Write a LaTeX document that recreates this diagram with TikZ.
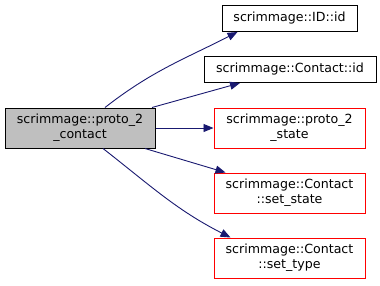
\documentclass[tikz,border=0pt]{standalone}
\usepackage{fontspec}
\setmainfont{DejaVu Sans}
\usetikzlibrary{arrows.meta}
\definecolor{edgeblue}{HTML}{191970}
\definecolor{boxgray}{HTML}{BFBFBF}
\begin{document}
\begin{tikzpicture}[x=1pt,y=-1pt,
  fn/.style={draw=black,line width=1pt,fill=white,inner sep=0pt,align=center,
    font=\fontsize{12.6}{15}\selectfont},
  missing/.style={fn,draw=red},
  callee/.style={fn,fill=boxgray},
  edge/.style={draw=edgeblue,line width=0.9pt,-{Triangle[length=10pt,width=8pt]}}]
\useasboundingbox (0,0) rectangle (380,285);
\node[callee,minimum width=150pt,minimum height=40pt] (main) at (80,128) {scrimmage::proto\_2\\\_contact};
\node[fn,minimum width=135pt,minimum height=26pt] (idid) at (289.5,18.5) {scrimmage::ID::id};
\node[fn,minimum width=172pt,minimum height=26pt] (cid) at (290,69.5) {scrimmage::Contact::id};
\node[missing,minimum width=151pt,minimum height=40pt] (pstate) at (289.5,128) {scrimmage::proto\_2\\\_state};
\node[missing,minimum width=151pt,minimum height=40pt] (sstate) at (289.5,193) {scrimmage::Contact\\::set\_state};
\node[missing,minimum width=151pt,minimum height=40pt] (stype) at (289.5,258) {scrimmage::Contact\\::set\_type};
\draw[edge] ([xshift=25pt]main.north) to[out=38,in=207] ([xshift=-52pt]idid.south);
\draw[edge] ([xshift=72pt]main.north) -- ([xshift=-50pt]cid.south);
\draw[edge] (main.east) -- (pstate.west);
\draw[edge] ([xshift=65pt]main.south) -- ([xshift=-64pt]sstate.north);
\draw[edge] ([xshift=23pt]main.south) to[out=-38,in=153] ([xshift=-59pt]stype.north);
\end{tikzpicture}
\end{document}
